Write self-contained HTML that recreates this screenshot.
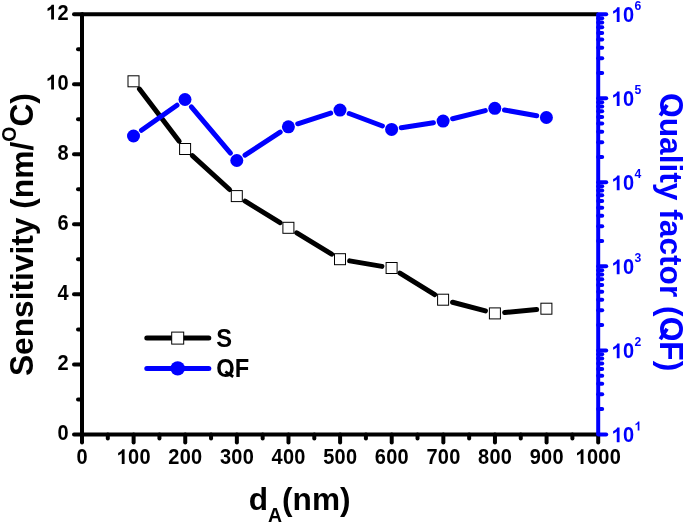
<!DOCTYPE html>
<html><head><meta charset="utf-8"><title>chart</title>
<style>html,body{margin:0;padding:0;background:#fff;}svg{display:block;will-change:transform;}text{font-family:"Liberation Sans",sans-serif;font-weight:bold;font-kerning:none;}</style></head>
<body>
<svg width="685" height="524" viewBox="0 0 685 524">
<rect width="685" height="524" fill="#fff"/>
<g stroke="#000" stroke-width="4.0" stroke-linecap="round" fill="none">
<line x1="82.0" y1="14.3" x2="598.2" y2="14.3" stroke-linecap="butt"/>
<line x1="82.0" y1="14.3" x2="82.0" y2="434.4"/>
<line x1="82.0" y1="434.4" x2="598.2" y2="434.4"/>
<line x1="82.0" y1="434.40" x2="74.00" y2="434.40"/>
<line x1="82.0" y1="399.39" x2="78.00" y2="399.39"/>
<line x1="82.0" y1="364.38" x2="74.00" y2="364.38"/>
<line x1="82.0" y1="329.38" x2="78.00" y2="329.38"/>
<line x1="82.0" y1="294.37" x2="74.00" y2="294.37"/>
<line x1="82.0" y1="259.36" x2="78.00" y2="259.36"/>
<line x1="82.0" y1="224.35" x2="74.00" y2="224.35"/>
<line x1="82.0" y1="189.34" x2="78.00" y2="189.34"/>
<line x1="82.0" y1="154.33" x2="74.00" y2="154.33"/>
<line x1="82.0" y1="119.32" x2="78.00" y2="119.32"/>
<line x1="82.0" y1="84.32" x2="74.00" y2="84.32"/>
<line x1="82.0" y1="49.31" x2="78.00" y2="49.31"/>
<line x1="82.0" y1="14.30" x2="74.00" y2="14.30"/>
<line x1="82.00" y1="434.4" x2="82.00" y2="442.40"/>
<line x1="107.81" y1="434.4" x2="107.81" y2="438.40"/>
<line x1="133.62" y1="434.4" x2="133.62" y2="442.40"/>
<line x1="159.43" y1="434.4" x2="159.43" y2="438.40"/>
<line x1="185.24" y1="434.4" x2="185.24" y2="442.40"/>
<line x1="211.05" y1="434.4" x2="211.05" y2="438.40"/>
<line x1="236.86" y1="434.4" x2="236.86" y2="442.40"/>
<line x1="262.67" y1="434.4" x2="262.67" y2="438.40"/>
<line x1="288.48" y1="434.4" x2="288.48" y2="442.40"/>
<line x1="314.29" y1="434.4" x2="314.29" y2="438.40"/>
<line x1="340.10" y1="434.4" x2="340.10" y2="442.40"/>
<line x1="365.91" y1="434.4" x2="365.91" y2="438.40"/>
<line x1="391.72" y1="434.4" x2="391.72" y2="442.40"/>
<line x1="417.53" y1="434.4" x2="417.53" y2="438.40"/>
<line x1="443.34" y1="434.4" x2="443.34" y2="442.40"/>
<line x1="469.15" y1="434.4" x2="469.15" y2="438.40"/>
<line x1="494.96" y1="434.4" x2="494.96" y2="442.40"/>
<line x1="520.77" y1="434.4" x2="520.77" y2="438.40"/>
<line x1="546.58" y1="434.4" x2="546.58" y2="442.40"/>
<line x1="572.39" y1="434.4" x2="572.39" y2="438.40"/>
<line x1="598.20" y1="434.4" x2="598.20" y2="442.40"/>
</g>
<g stroke="#0000ff" stroke-width="4.0" stroke-linecap="round" fill="none">
<line x1="598.2" y1="14.3" x2="598.2" y2="434.4" stroke-linecap="butt"/>
<line x1="598.2" y1="434.40" x2="606.20" y2="434.40"/>
<line x1="598.2" y1="409.11" x2="602.20" y2="409.11"/>
<line x1="598.2" y1="394.31" x2="602.20" y2="394.31"/>
<line x1="598.2" y1="383.81" x2="602.20" y2="383.81"/>
<line x1="598.2" y1="375.67" x2="602.20" y2="375.67"/>
<line x1="598.2" y1="369.02" x2="602.20" y2="369.02"/>
<line x1="598.2" y1="363.39" x2="602.20" y2="363.39"/>
<line x1="598.2" y1="358.52" x2="602.20" y2="358.52"/>
<line x1="598.2" y1="354.22" x2="602.20" y2="354.22"/>
<line x1="598.2" y1="350.38" x2="606.20" y2="350.38"/>
<line x1="598.2" y1="325.09" x2="602.20" y2="325.09"/>
<line x1="598.2" y1="310.29" x2="602.20" y2="310.29"/>
<line x1="598.2" y1="299.79" x2="602.20" y2="299.79"/>
<line x1="598.2" y1="291.65" x2="602.20" y2="291.65"/>
<line x1="598.2" y1="285.00" x2="602.20" y2="285.00"/>
<line x1="598.2" y1="279.37" x2="602.20" y2="279.37"/>
<line x1="598.2" y1="274.50" x2="602.20" y2="274.50"/>
<line x1="598.2" y1="270.20" x2="602.20" y2="270.20"/>
<line x1="598.2" y1="266.36" x2="606.20" y2="266.36"/>
<line x1="598.2" y1="241.07" x2="602.20" y2="241.07"/>
<line x1="598.2" y1="226.27" x2="602.20" y2="226.27"/>
<line x1="598.2" y1="215.77" x2="602.20" y2="215.77"/>
<line x1="598.2" y1="207.63" x2="602.20" y2="207.63"/>
<line x1="598.2" y1="200.98" x2="602.20" y2="200.98"/>
<line x1="598.2" y1="195.35" x2="602.20" y2="195.35"/>
<line x1="598.2" y1="190.48" x2="602.20" y2="190.48"/>
<line x1="598.2" y1="186.18" x2="602.20" y2="186.18"/>
<line x1="598.2" y1="182.34" x2="606.20" y2="182.34"/>
<line x1="598.2" y1="157.05" x2="602.20" y2="157.05"/>
<line x1="598.2" y1="142.25" x2="602.20" y2="142.25"/>
<line x1="598.2" y1="131.75" x2="602.20" y2="131.75"/>
<line x1="598.2" y1="123.61" x2="602.20" y2="123.61"/>
<line x1="598.2" y1="116.96" x2="602.20" y2="116.96"/>
<line x1="598.2" y1="111.33" x2="602.20" y2="111.33"/>
<line x1="598.2" y1="106.46" x2="602.20" y2="106.46"/>
<line x1="598.2" y1="102.16" x2="602.20" y2="102.16"/>
<line x1="598.2" y1="98.32" x2="606.20" y2="98.32"/>
<line x1="598.2" y1="73.03" x2="602.20" y2="73.03"/>
<line x1="598.2" y1="58.23" x2="602.20" y2="58.23"/>
<line x1="598.2" y1="47.73" x2="602.20" y2="47.73"/>
<line x1="598.2" y1="39.59" x2="602.20" y2="39.59"/>
<line x1="598.2" y1="32.94" x2="602.20" y2="32.94"/>
<line x1="598.2" y1="27.31" x2="602.20" y2="27.31"/>
<line x1="598.2" y1="22.44" x2="602.20" y2="22.44"/>
<line x1="598.2" y1="18.14" x2="602.20" y2="18.14"/>
<line x1="598.2" y1="14.30" x2="606.20" y2="14.30"/>
</g>
<text transform="translate(63.00,439.60) scale(0.975,1.065)" text-anchor="middle" font-size="20.5" fill="#000">0</text>
<text transform="translate(63.00,369.58) scale(0.975,1.065)" text-anchor="middle" font-size="20.5" fill="#000">2</text>
<text transform="translate(63.00,299.57) scale(0.975,1.065)" text-anchor="middle" font-size="20.5" fill="#000">4</text>
<text transform="translate(63.00,229.55) scale(0.975,1.065)" text-anchor="middle" font-size="20.5" fill="#000">6</text>
<text transform="translate(63.00,159.53) scale(0.975,1.065)" text-anchor="middle" font-size="20.5" fill="#000">8</text>
<path d="M393.6,0 L256.3,0 L256.3,517 Q181,446.8 79,413 L79,537.6 Q132.8,555 195.8,604 Q258.8,653 282,718.75 L393.6,718.75 Z" transform="translate(45.90,89.52) scale(0.02050,-0.02050)" fill="#000"/><text transform="translate(63.00,89.52) scale(0.975,1.065)" text-anchor="middle" font-size="20.5" fill="#000">0</text>
<path d="M393.6,0 L256.3,0 L256.3,517 Q181,446.8 79,413 L79,537.6 Q132.8,555 195.8,604 Q258.8,653 282,718.75 L393.6,718.75 Z" transform="translate(45.90,19.50) scale(0.02050,-0.02050)" fill="#000"/><text transform="translate(63.00,19.50) scale(0.975,1.065)" text-anchor="middle" font-size="20.5" fill="#000">2</text>
<text transform="translate(82.00,463.95) scale(0.975,1.065)" text-anchor="middle" font-size="20.5" fill="#000">0</text>
<path d="M393.6,0 L256.3,0 L256.3,517 Q181,446.8 79,413 L79,537.6 Q132.8,555 195.8,604 Q258.8,653 282,718.75 L393.6,718.75 Z" transform="translate(116.52,463.95) scale(0.02050,-0.02050)" fill="#000"/><text transform="translate(133.62,463.95) scale(0.975,1.065)" text-anchor="middle" font-size="20.5" fill="#000">0</text><text transform="translate(145.02,463.95) scale(0.975,1.065)" text-anchor="middle" font-size="20.5" fill="#000">0</text>
<text transform="translate(173.84,463.95) scale(0.975,1.065)" text-anchor="middle" font-size="20.5" fill="#000">2</text><text transform="translate(185.24,463.95) scale(0.975,1.065)" text-anchor="middle" font-size="20.5" fill="#000">0</text><text transform="translate(196.64,463.95) scale(0.975,1.065)" text-anchor="middle" font-size="20.5" fill="#000">0</text>
<text transform="translate(225.46,463.95) scale(0.975,1.065)" text-anchor="middle" font-size="20.5" fill="#000">3</text><text transform="translate(236.86,463.95) scale(0.975,1.065)" text-anchor="middle" font-size="20.5" fill="#000">0</text><text transform="translate(248.26,463.95) scale(0.975,1.065)" text-anchor="middle" font-size="20.5" fill="#000">0</text>
<text transform="translate(277.08,463.95) scale(0.975,1.065)" text-anchor="middle" font-size="20.5" fill="#000">4</text><text transform="translate(288.48,463.95) scale(0.975,1.065)" text-anchor="middle" font-size="20.5" fill="#000">0</text><text transform="translate(299.88,463.95) scale(0.975,1.065)" text-anchor="middle" font-size="20.5" fill="#000">0</text>
<text transform="translate(328.70,463.95) scale(0.975,1.065)" text-anchor="middle" font-size="20.5" fill="#000">5</text><text transform="translate(340.10,463.95) scale(0.975,1.065)" text-anchor="middle" font-size="20.5" fill="#000">0</text><text transform="translate(351.50,463.95) scale(0.975,1.065)" text-anchor="middle" font-size="20.5" fill="#000">0</text>
<text transform="translate(380.32,463.95) scale(0.975,1.065)" text-anchor="middle" font-size="20.5" fill="#000">6</text><text transform="translate(391.72,463.95) scale(0.975,1.065)" text-anchor="middle" font-size="20.5" fill="#000">0</text><text transform="translate(403.12,463.95) scale(0.975,1.065)" text-anchor="middle" font-size="20.5" fill="#000">0</text>
<text transform="translate(431.94,463.95) scale(0.975,1.065)" text-anchor="middle" font-size="20.5" fill="#000">7</text><text transform="translate(443.34,463.95) scale(0.975,1.065)" text-anchor="middle" font-size="20.5" fill="#000">0</text><text transform="translate(454.74,463.95) scale(0.975,1.065)" text-anchor="middle" font-size="20.5" fill="#000">0</text>
<text transform="translate(483.56,463.95) scale(0.975,1.065)" text-anchor="middle" font-size="20.5" fill="#000">8</text><text transform="translate(494.96,463.95) scale(0.975,1.065)" text-anchor="middle" font-size="20.5" fill="#000">0</text><text transform="translate(506.36,463.95) scale(0.975,1.065)" text-anchor="middle" font-size="20.5" fill="#000">0</text>
<text transform="translate(535.18,463.95) scale(0.975,1.065)" text-anchor="middle" font-size="20.5" fill="#000">9</text><text transform="translate(546.58,463.95) scale(0.975,1.065)" text-anchor="middle" font-size="20.5" fill="#000">0</text><text transform="translate(557.98,463.95) scale(0.975,1.065)" text-anchor="middle" font-size="20.5" fill="#000">0</text>
<path d="M393.6,0 L256.3,0 L256.3,517 Q181,446.8 79,413 L79,537.6 Q132.8,555 195.8,604 Q258.8,653 282,718.75 L393.6,718.75 Z" transform="translate(575.40,463.95) scale(0.02050,-0.02050)" fill="#000"/><text transform="translate(592.50,463.95) scale(0.975,1.065)" text-anchor="middle" font-size="20.5" fill="#000">0</text><text transform="translate(603.90,463.95) scale(0.975,1.065)" text-anchor="middle" font-size="20.5" fill="#000">0</text><text transform="translate(615.30,463.95) scale(0.975,1.065)" text-anchor="middle" font-size="20.5" fill="#000">0</text>
<path d="M393.6,0 L256.3,0 L256.3,517 Q181,446.8 79,413 L79,537.6 Q132.8,555 195.8,604 Q258.8,653 282,718.75 L393.6,718.75 Z" transform="translate(611.50,442.20) scale(0.02050,-0.02050)" fill="#0000ff"/><text transform="translate(628.60,442.20) scale(0.975,1.065)" text-anchor="middle" font-size="20.5" fill="#0000ff">0</text>
<path d="M393.6,0 L256.3,0 L256.3,517 Q181,446.8 79,413 L79,537.6 Q132.8,555 195.8,604 Q258.8,653 282,718.75 L393.6,718.75 Z" transform="translate(634.50,430.50) scale(0.01250,-0.01250)" fill="#0000ff"/>
<path d="M393.6,0 L256.3,0 L256.3,517 Q181,446.8 79,413 L79,537.6 Q132.8,555 195.8,604 Q258.8,653 282,718.75 L393.6,718.75 Z" transform="translate(611.50,358.18) scale(0.02050,-0.02050)" fill="#0000ff"/><text transform="translate(628.60,358.18) scale(0.975,1.065)" text-anchor="middle" font-size="20.5" fill="#0000ff">0</text>
<text transform="translate(637.98,346.48) scale(0.975,1.065)" text-anchor="middle" font-size="12.5" fill="#0000ff">2</text>
<path d="M393.6,0 L256.3,0 L256.3,517 Q181,446.8 79,413 L79,537.6 Q132.8,555 195.8,604 Q258.8,653 282,718.75 L393.6,718.75 Z" transform="translate(611.50,274.16) scale(0.02050,-0.02050)" fill="#0000ff"/><text transform="translate(628.60,274.16) scale(0.975,1.065)" text-anchor="middle" font-size="20.5" fill="#0000ff">0</text>
<text transform="translate(637.98,262.46) scale(0.975,1.065)" text-anchor="middle" font-size="12.5" fill="#0000ff">3</text>
<path d="M393.6,0 L256.3,0 L256.3,517 Q181,446.8 79,413 L79,537.6 Q132.8,555 195.8,604 Q258.8,653 282,718.75 L393.6,718.75 Z" transform="translate(611.50,190.14) scale(0.02050,-0.02050)" fill="#0000ff"/><text transform="translate(628.60,190.14) scale(0.975,1.065)" text-anchor="middle" font-size="20.5" fill="#0000ff">0</text>
<text transform="translate(637.98,178.44) scale(0.975,1.065)" text-anchor="middle" font-size="12.5" fill="#0000ff">4</text>
<path d="M393.6,0 L256.3,0 L256.3,517 Q181,446.8 79,413 L79,537.6 Q132.8,555 195.8,604 Q258.8,653 282,718.75 L393.6,718.75 Z" transform="translate(611.50,106.12) scale(0.02050,-0.02050)" fill="#0000ff"/><text transform="translate(628.60,106.12) scale(0.975,1.065)" text-anchor="middle" font-size="20.5" fill="#0000ff">0</text>
<text transform="translate(637.98,94.42) scale(0.975,1.065)" text-anchor="middle" font-size="12.5" fill="#0000ff">5</text>
<path d="M393.6,0 L256.3,0 L256.3,517 Q181,446.8 79,413 L79,537.6 Q132.8,555 195.8,604 Q258.8,653 282,718.75 L393.6,718.75 Z" transform="translate(611.50,22.10) scale(0.02050,-0.02050)" fill="#0000ff"/><text transform="translate(628.60,22.10) scale(0.975,1.065)" text-anchor="middle" font-size="20.5" fill="#0000ff">0</text>
<text transform="translate(637.98,10.40) scale(0.975,1.065)" text-anchor="middle" font-size="12.5" fill="#0000ff">6</text>
<line x1="139.44" y1="89.09" x2="179.16" y2="141.21" stroke="#000" stroke-width="5.0" stroke-linecap="round"/>
<line x1="192.34" y1="155.60" x2="229.56" y2="189.50" stroke="#000" stroke-width="5.0" stroke-linecap="round"/>
<line x1="245.15" y1="201.23" x2="280.05" y2="222.67" stroke="#000" stroke-width="5.0" stroke-linecap="round"/>
<line x1="296.77" y1="232.89" x2="331.63" y2="254.11" stroke="#000" stroke-width="5.0" stroke-linecap="round"/>
<line x1="349.66" y1="260.85" x2="381.94" y2="266.35" stroke="#000" stroke-width="5.0" stroke-linecap="round"/>
<line x1="399.95" y1="273.14" x2="434.75" y2="294.56" stroke="#000" stroke-width="5.0" stroke-linecap="round"/>
<line x1="452.57" y1="302.21" x2="485.43" y2="310.89" stroke="#000" stroke-width="5.0" stroke-linecap="round"/>
<line x1="504.66" y1="312.51" x2="536.64" y2="309.59" stroke="#000" stroke-width="5.0" stroke-linecap="round"/>
<line x1="141.50" y1="130.33" x2="177.00" y2="105.17" stroke="#0000ff" stroke-width="5.0" stroke-linecap="round"/>
<line x1="191.34" y1="106.97" x2="230.46" y2="153.03" stroke="#0000ff" stroke-width="5.0" stroke-linecap="round"/>
<line x1="245.01" y1="155.14" x2="280.19" y2="132.16" stroke="#0000ff" stroke-width="5.0" stroke-linecap="round"/>
<line x1="297.72" y1="123.78" x2="330.68" y2="113.12" stroke="#0000ff" stroke-width="5.0" stroke-linecap="round"/>
<line x1="349.18" y1="113.53" x2="382.42" y2="125.97" stroke="#0000ff" stroke-width="5.0" stroke-linecap="round"/>
<line x1="401.28" y1="127.84" x2="433.42" y2="122.66" stroke="#0000ff" stroke-width="5.0" stroke-linecap="round"/>
<line x1="452.61" y1="118.74" x2="485.29" y2="110.66" stroke="#0000ff" stroke-width="5.0" stroke-linecap="round"/>
<line x1="504.45" y1="110.02" x2="536.75" y2="115.78" stroke="#0000ff" stroke-width="5.0" stroke-linecap="round"/>
<rect x="128.00" y="75.80" width="11" height="11" fill="#fff" stroke="#000" stroke-width="1"/>
<rect x="179.60" y="143.50" width="11" height="11" fill="#fff" stroke="#000" stroke-width="1"/>
<rect x="231.30" y="190.60" width="11" height="11" fill="#fff" stroke="#000" stroke-width="1"/>
<rect x="282.90" y="222.30" width="11" height="11" fill="#fff" stroke="#000" stroke-width="1"/>
<rect x="334.50" y="253.70" width="11" height="11" fill="#fff" stroke="#000" stroke-width="1"/>
<rect x="386.10" y="262.50" width="11" height="11" fill="#fff" stroke="#000" stroke-width="1"/>
<rect x="437.60" y="294.20" width="11" height="11" fill="#fff" stroke="#000" stroke-width="1"/>
<rect x="489.40" y="307.90" width="11" height="11" fill="#fff" stroke="#000" stroke-width="1"/>
<rect x="540.90" y="303.20" width="11" height="11" fill="#fff" stroke="#000" stroke-width="1"/>
<circle cx="133.50" cy="136.00" r="6.5" fill="#0000ff"/>
<circle cx="185.00" cy="99.50" r="6.5" fill="#0000ff"/>
<circle cx="236.80" cy="160.50" r="6.5" fill="#0000ff"/>
<circle cx="288.40" cy="126.80" r="6.5" fill="#0000ff"/>
<circle cx="340.00" cy="110.10" r="6.5" fill="#0000ff"/>
<circle cx="391.60" cy="129.40" r="6.5" fill="#0000ff"/>
<circle cx="443.10" cy="121.10" r="6.5" fill="#0000ff"/>
<circle cx="494.80" cy="108.30" r="6.5" fill="#0000ff"/>
<circle cx="546.40" cy="117.50" r="6.5" fill="#0000ff"/>
<line x1="146.8" y1="338.1" x2="208.8" y2="338.1" stroke="#000" stroke-width="5.0" stroke-linecap="round"/>
<line x1="146.8" y1="368.4" x2="208.8" y2="368.4" stroke="#0000ff" stroke-width="5.0" stroke-linecap="round"/>
<rect x="171.7" y="332.1" width="12" height="12" fill="#fff" stroke="#000" stroke-width="1"/>
<circle cx="177.7" cy="368.4" r="7.2" fill="#0000ff"/>
<text transform="translate(216.30,346.60) scale(1,1.08)" font-size="23.70" fill="#000">S</text>
<text transform="translate(216.30,376.80) scale(1,1.08)" font-size="23.70" fill="#000">O</text><line x1="225.31" y1="371.68" x2="233.17" y2="376.75" stroke="#000" stroke-width="2.80" stroke-linecap="butt"/><text transform="translate(234.73,376.80) scale(1,1.08)" font-size="23.70" fill="#000">F</text>
<text x="248.70" y="509.70" font-size="31.60" fill="#000">d</text><text transform="translate(268.00,522.40) scale(1,1.045)" font-size="19.50" fill="#000">A</text><text x="282.08" y="509.70" font-size="31.60" fill="#000">(nm)</text>
<g transform="translate(32.8,376.0) rotate(-90)"><text transform="translate(0.00,0.00) scale(1,1.045)" font-size="31.70" fill="#000">S</text><text x="21.14" y="0.00" font-size="31.70" fill="#000">ensitivity (nm/</text><text transform="translate(234.28,-16.50) scale(1,1.045)" font-size="19.50" fill="#000">O</text><text transform="translate(249.45,0.00) scale(1,1.045)" font-size="31.70" fill="#000">C</text><text x="272.34" y="0.00" font-size="31.70" fill="#000">)</text></g>
<g transform="translate(660.2,93.0) rotate(90)"><text transform="translate(0.00,0.00) scale(1,1.045)" font-size="31.70" fill="#0000ff">O</text><line x1="12.05" y1="-6.85" x2="22.57" y2="-0.06" stroke="#0000ff" stroke-width="3.74" stroke-linecap="butt"/><text x="24.66" y="0.00" font-size="31.70" fill="#0000ff">uality factor (</text><text transform="translate(223.70,0.00) scale(1,1.045)" font-size="31.70" fill="#0000ff">O</text><line x1="235.74" y1="-6.85" x2="246.27" y2="-0.06" stroke="#0000ff" stroke-width="3.74" stroke-linecap="butt"/><text transform="translate(248.35,0.00) scale(1,1.045)" font-size="31.70" fill="#0000ff">F</text><text x="267.72" y="0.00" font-size="31.70" fill="#0000ff">)</text></g>
</svg></body></html>
